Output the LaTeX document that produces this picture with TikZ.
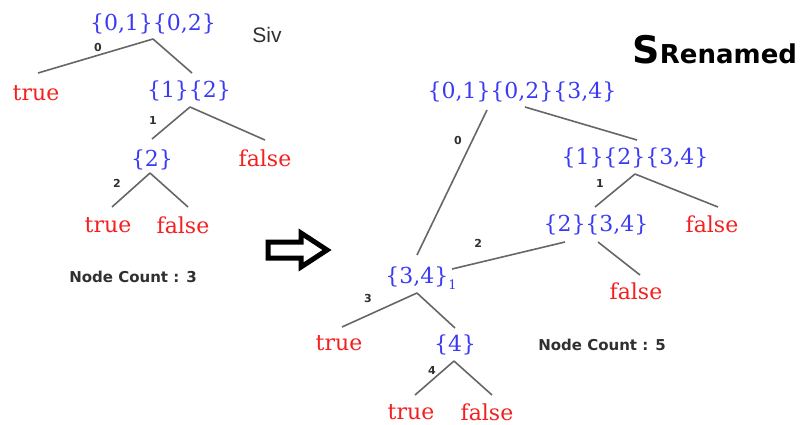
\documentclass[tikz,border=0pt]{standalone}
\usepackage{fontspec}
\setmainfont{DejaVu Serif}
\newfontfamily\labelfont{DejaVu Sans}
\newfontfamily\sivfont{Liberation Sans}
\usetikzlibrary{calc}
\definecolor{setblue}{HTML}{3A3AF4}
\definecolor{leafred}{HTML}{F42020}
\definecolor{edgegray}{HTML}{666666}
\definecolor{labelgray}{HTML}{303030}
\tikzset{
  % Tree styles
  setnode/.style={inner sep=0pt, text=setblue, font=\fontsize{22}{26}\selectfont},
  leafnode/.style={inner sep=0pt, text=leafred, font=\fontsize{22}{26}\selectfont},
  edgelabel/.style={inner sep=0pt, text=labelgray, font=\labelfont\bfseries\fontsize{11}{12}\selectfont},
  countnode/.style={inner sep=0pt, text=labelgray, font=\labelfont\bfseries\fontsize{15}{17}\selectfont},
  treeedge/.style={draw=edgegray, line width=1.6pt},
  % Title styles
  titlebig/.style={inner sep=0pt, text=black, font=\labelfont\bfseries\fontsize{38}{40}\selectfont},
  titlesmall/.style={inner sep=0pt, text=black, font=\labelfont\bfseries\fontsize{26}{28}\selectfont},
}

\begin{document}
\begin{tikzpicture}[x=1pt, y=-1pt]
    \useasboundingbox (0,0) rectangle (801,424);

    % Left tree (Siv)
    \node[setnode] (l1) at (153,24) {\{0,1\}\{0,2\}};
    \node[inner sep=0pt, text=labelgray, font=\sivfont\fontsize{21}{24}\selectfont] (siv) at (267,35) {Siv};
    \node[leafnode] (lt1) at (36,93) {true};
    \node[setnode] (l2) at (189,91) {\{1\}\{2\}};
    \node[setnode] (l3) at (152,160) {\{2\}};
    \node[leafnode] (lf2) at (265,158) {false};
    \node[leafnode] (lt3) at (108,225) {true};
    \node[leafnode] (lf3) at (183,225) {false};
    \node[countnode] (lcount) at (133,277) {Node Count : 3};

    \draw[treeedge] ($(l1)+(0,15)$) -- node[edgelabel, xshift=2.5pt, yshift=9pt] {0} ($(lt1)+(2,-20)$);
    \draw[treeedge] ($(l1)+(0,15)$) -- ($(l2)+(3,-18)$);
    \draw[treeedge] ($(l2)+(1,16)$) -- node[edgelabel, xshift=-18pt, yshift=3pt] {1} ($(l3)+(0,-21)$);
    \draw[treeedge] ($(l2)+(1,16)$) -- ($(lf2)+(0,-18)$);
    \draw[treeedge] ($(l3)+(-2,13)$) -- node[edgelabel, xshift=-14pt, yshift=7pt] {2} ($(lt3)+(4,-18)$);
    \draw[treeedge] ($(l3)+(-2,13)$) -- ($(lf3)+(5,-18)$);

    % Outline arrow
    \draw[line width=5pt, line join=miter, fill=white]
      (268,242) -- (301,242) -- (301,233) -- (327,250) -- (301,267) -- (301,258) -- (268,258) -- cycle;

    % Right tree (S Renamed)
    \node[titlebig, anchor=base west] (sbig) at (632,63) {S};
    \node[titlesmall, anchor=base west] (renamed) at (sbig.base east) {Renamed};

    \node[setnode] (r1) at (522,92) {\{0,1\}\{0,2\}\{3,4\}};
    \node[setnode] (r2) at (635,158) {\{1\}\{2\}\{3,4\}};
    \node[setnode] (r3) at (596,225) {\{2\}\{3,4\}};
    \node[leafnode] (rf2) at (712,224) {false};
    \node[leafnode] (rf3) at (636,291) {false};
    \node[setnode] (r4) at (421,278) {\{3,4\}{\fontsize{13}{14}\selectfont\raisebox{-6pt}{1}}};
    \node[leafnode] (rt4) at (339,343) {true};
    \node[setnode] (r5) at (455,345) {\{4\}};
    \node[countnode] (rcount) at (602,345) {Node Count : 5};
    \node[leafnode] (rt5) at (411,412) {true};
    \node[leafnode] (rf5) at (487,412) {false};

    \draw[treeedge] ($(r1)+(-35,18)$) -- node[edgelabel, pos=0.2, xshift=-15pt, yshift=-1pt] {0} ($(r4)+(-4,-23)$);
    \draw[treeedge] ($(r1)+(3,15)$) -- ($(r2)+(2,-18)$);
    \draw[treeedge] ($(r2)+(0,16)$) -- node[edgelabel, xshift=-15pt, yshift=7.5pt] {1} ($(r3)+(-1,-18)$);
    \draw[treeedge] ($(r2)+(0,16)$) -- ($(rf2)+(6,-17)$);
    \draw[treeedge] ($(r3)+(-31,17)$) -- node[edgelabel, pos=0.75, xshift=-2pt, yshift=19pt] {2} ($(r4)+(31,-9)$);
    \draw[treeedge] ($(r3)+(2,17)$) -- ($(rf3)+(4,-16)$);
    \draw[treeedge] ($(r4)+(-4,15)$) -- node[edgelabel, xshift=-11.5pt, yshift=12pt] {3} ($(rt4)+(3,-16)$);
    \draw[treeedge] ($(r4)+(-4,15)$) -- ($(r5)+(0,-17)$);
    \draw[treeedge] ($(r5)+(-1,16)$) -- node[edgelabel, xshift=-2.5pt, yshift=8pt] {4} ($(rt5)+(4,-17)$);
    \draw[treeedge] ($(r5)+(-1,16)$) -- ($(rf5)+(5,-17)$);
  \end{tikzpicture}
\end{document}
